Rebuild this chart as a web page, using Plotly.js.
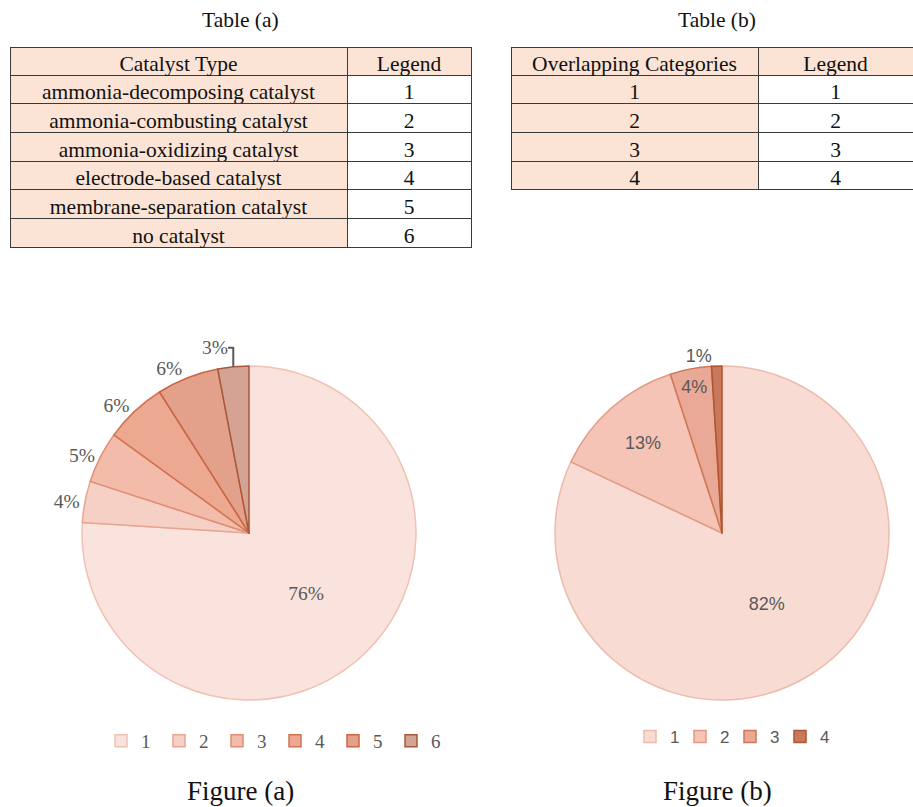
<!DOCTYPE html>
<html>
<head>
<meta charset="utf-8">
<script src="https://cdn.plot.ly/plotly-3.0.1.min.js"></script>
<style>
  html, body { margin: 0; padding: 0; background: #fff; }
  #chart { width: 913px; height: 807px; }
</style>
</head>
<body>
<div id="chart"></div>
<script>
// Table (a): catalyst types and their legend numbers
const catalystTypes = [
  "ammonia-decomposing catalyst",
  "ammonia-combusting catalyst",
  "ammonia-oxidizing catalyst",
  "electrode-based catalyst",
  "membrane-separation catalyst",
  "no catalyst"
];
const catalystLegend = ["1", "2", "3", "4", "5", "6"];

// Table (b): overlapping categories
const overlapCategories = ["1", "2", "3", "4"];
const overlapLegend = ["1", "2", "3", "4"];

// Figure (a) shares (%)
const pieALabels = ["1", "2", "3", "4", "5", "6"];
const pieAValues = [76, 4, 5, 6, 6, 3];

// Figure (b) shares (%)
const pieBLabels = ["1", "2", "3", "4"];
const pieBValues = [82, 13, 4, 1];

const W = 913, H = 807;
const px = v => v / W;
const py = v => 1 - v / H;

const serif = "Liberation Serif, Times New Roman, serif";
const sans = "Liberation Sans, Arial, sans-serif";
const peach = "#FBE4D5";
const gridLine = "#3a3a3a";
const labelGrey = "#595959";
const ink = "#111111";

const colsFill = (n) => [Array(n).fill(peach), Array(n).fill("#ffffff")];

const tableA = {
  type: "table",
  domain: { x: [px(10), px(471)], y: [py(249), py(47)] },
  columnwidth: [337, 124],
  header: {
    values: ["Catalyst Type", "Legend"],
    fill: { color: peach },
    line: { color: gridLine, width: 1 },
    align: "center",
    height: 28,
    font: { family: serif, size: 21.5, color: ink }
  },
  cells: {
    values: [catalystTypes, catalystLegend],
    fill: { color: colsFill(catalystTypes.length) },
    line: { color: gridLine, width: 1 },
    align: "center",
    height: 28.7,
    font: { family: serif, size: 21.5, color: ink }
  }
};

const tableB = {
  type: "table",
  domain: { x: [px(511), px(913)], y: [py(191), py(47)] },
  columnwidth: [247, 155],
  header: {
    values: ["Overlapping Categories", "Legend"],
    fill: { color: peach },
    line: { color: gridLine, width: 1 },
    align: "center",
    height: 28,
    font: { family: serif, size: 21.5, color: ink }
  },
  cells: {
    values: [overlapCategories, overlapLegend],
    fill: { color: colsFill(overlapCategories.length) },
    line: { color: gridLine, width: 1 },
    align: "center",
    height: 28.7,
    font: { family: serif, size: 21.5, color: ink }
  }
};

const pieA = {
  type: "pie",
  labels: pieALabels,
  values: pieAValues,
  sort: false,
  direction: "clockwise",
  rotation: 0,
  domain: { x: [px(82), px(416)], y: [py(700), py(366)] },
  marker: {
    colors: ["#FAE3DD", "#F6D0C5", "#F3BCAA", "#ECA890", "#E3A08A", "#D4A394"],
    line: { color: ["#EFC2B4", "#E7A592", "#DF8E74", "#D27351", "#C96644", "#A8593A"], width: 1.5 }
  },
  texttemplate: "%{value}%",
  textposition: ["inside", "outside", "outside", "outside", "outside", "outside"],
  insidetextorientation: "horizontal",
  textfont: { family: serif, size: 19.5, color: labelGrey },
  outsidetextfont: { family: serif, size: 19.5, color: labelGrey },
  hoverinfo: "label+percent",
  legend: "legend",
  legendgroup: "a",
  showlegend: true
};

const pieB = {
  type: "pie",
  labels: pieBLabels,
  values: pieBValues,
  sort: false,
  direction: "clockwise",
  rotation: 0,
  domain: { x: [px(555), px(889)], y: [py(700), py(366)] },
  marker: {
    colors: ["#F8DCD4", "#F5C4B6", "#E9A996", "#C8785C"],
    line: { color: ["#EDBBAC", "#E39A84", "#CE7656", "#B0552F"], width: 1.5 }
  },
  texttemplate: "%{value}%",
  textposition: ["inside", "inside", "inside", "outside"],
  insidetextorientation: "horizontal",
  textfont: { family: sans, size: 18, color: labelGrey },
  outsidetextfont: { family: sans, size: 18, color: labelGrey },
  hoverinfo: "label+percent",
  legend: "legend2",
  legendgroup: "b",
  showlegend: true
};

const layout = {
  width: W,
  height: H,
  margin: { l: 0, r: 0, t: 0, b: 0 },
  paper_bgcolor: "#ffffff",
  plot_bgcolor: "#ffffff",
  showlegend: true,
  legend: {
    orientation: "h",
    x: px(101), xanchor: "left",
    y: py(741), yanchor: "middle",
    font: { family: serif, size: 19, color: labelGrey },
    entrywidth: 13, entrywidthmode: "pixels",
    traceorder: "normal",
    bgcolor: "rgba(0,0,0,0)"
  },
  legend2: {
    orientation: "h",
    x: px(630), xanchor: "left",
    y: py(737), yanchor: "middle",
    font: { family: sans, size: 17, color: labelGrey },
    entrywidth: 5, entrywidthmode: "pixels",
    traceorder: "normal",
    bgcolor: "rgba(0,0,0,0)"
  },
  annotations: [
    { text: "Table (a)", x: px(240), y: py(20), xref: "paper", yref: "paper",
      xanchor: "center", yanchor: "middle",
      showarrow: false, font: { family: serif, size: 21.5, color: ink } },
    { text: "Table (b)", x: px(717), y: py(20), xref: "paper", yref: "paper",
      xanchor: "center", yanchor: "middle",
      showarrow: false, font: { family: serif, size: 21.5, color: ink } },
    { text: "Figure (a)", x: px(240), y: 0, xref: "paper", yref: "paper",
      xanchor: "center", yanchor: "bottom", borderpad: 0,
      showarrow: false, font: { family: serif, size: 27, color: ink } },
    { text: "Figure (b)", x: px(717), y: 0, xref: "paper", yref: "paper",
      xanchor: "center", yanchor: "bottom", borderpad: 0,
      showarrow: false, font: { family: serif, size: 27, color: ink } }
  ]
};

Plotly.newPlot("chart", [tableA, tableB, pieA, pieB], layout, { displayModeBar: false, staticPlot: true });
</script>
</body>
</html>
